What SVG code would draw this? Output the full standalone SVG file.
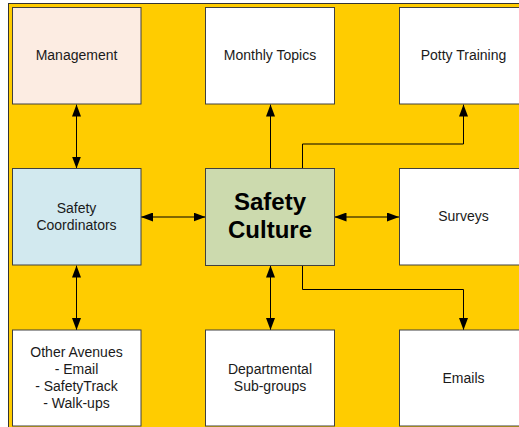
<svg xmlns="http://www.w3.org/2000/svg" width="519" height="427" viewBox="0 0 519 427">
  <defs>
    <marker id="arr" viewBox="0 0 12 9" refX="12" refY="4.5" markerWidth="12" markerHeight="9" markerUnits="userSpaceOnUse" orient="auto-start-reverse">
      <path d="M0,0 L12,4.5 L0,9 z" fill="#000"/>
    </marker>
    <style>
      .box { stroke: #404040; stroke-width: 1; }
      .t { font-family: "Liberation Sans", Arial, sans-serif; font-size: 14px; fill: #1a1a1a; text-anchor: middle; }
      .big { font-family: "Liberation Sans", Arial, sans-serif; font-size: 24px; font-weight: bold; fill: #000; text-anchor: middle; }
      .c { fill: none; stroke: #000; stroke-width: 1; }
      .both { marker-start: url(#arr); marker-end: url(#arr); }
      .end { marker-end: url(#arr); }
    </style>
  </defs>
  <rect x="0" y="0" width="519" height="427" fill="#fff"/>
  <rect x="8.5" y="3.5" width="530" height="440" fill="#FFCC00" stroke="#333" stroke-width="1"/>

  <g id="connectors">
    <path class="c both" d="M76.5,104.5 V168.5"/>
    <path class="c both" d="M141,217 H205.5"/>
    <path class="c end" d="M270.5,168.5 V104.5"/>
    <path class="c end" d="M302.5,168.5 V144 H463.5 V104.5"/>
    <path class="c both" d="M334.5,217 H399"/>
    <path class="c end" d="M302.5,265.5 V289.5 H463.5 V330"/>
    <path class="c both" d="M270.5,265.5 V330"/>
    <path class="c both" d="M76.5,265.5 V330"/>
  </g>

  <g id="management">
    <rect class="box" x="12.5" y="7.5" width="128.5" height="96.5" fill="#FCECE2"/>
    <text class="t" x="76.5" y="60">Management</text>
  </g>
  <g id="monthly-topics">
    <rect class="box" x="205.5" y="7.5" width="129" height="96.5" fill="#fff"/>
    <text class="t" x="270" y="60">Monthly Topics</text>
  </g>
  <g id="potty-training">
    <rect class="box" x="399.5" y="7.5" width="129" height="96.5" fill="#fff"/>
    <text class="t" x="463.5" y="60">Potty Training</text>
  </g>
  <g id="safety-coordinators">
    <rect class="box" x="12.5" y="168.5" width="128.5" height="96.5" fill="#D2E9EF"/>
    <text class="t" x="76.5" y="213">Safety</text>
    <text class="t" x="76.5" y="230">Coordinators</text>
  </g>
  <g id="safety-culture">
    <rect class="box" x="205.5" y="168.5" width="129" height="97" fill="#CCDAAE"/>
    <text class="big" x="270" y="210">Safety</text>
    <text class="big" x="270" y="238">Culture</text>
  </g>
  <g id="surveys">
    <rect class="box" x="399.5" y="168.5" width="129" height="96.5" fill="#fff"/>
    <text class="t" x="463.5" y="221">Surveys</text>
  </g>
  <g id="other-avenues">
    <rect class="box" x="12.5" y="330" width="128.5" height="96" fill="#fff"/>
    <text class="t" x="76.5" y="357">Other Avenues</text>
    <text class="t" x="76.5" y="374">- Email</text>
    <text class="t" x="76.5" y="391">- SafetyTrack</text>
    <text class="t" x="76.5" y="408">- Walk-ups</text>
  </g>
  <g id="departmental">
    <rect class="box" x="205.5" y="330" width="129" height="96" fill="#fff"/>
    <text class="t" x="270" y="374">Departmental</text>
    <text class="t" x="270" y="391">Sub-groups</text>
  </g>
  <g id="emails">
    <rect class="box" x="399.5" y="330" width="129" height="96" fill="#fff"/>
    <text class="t" x="463.5" y="383">Emails</text>
  </g>
</svg>
